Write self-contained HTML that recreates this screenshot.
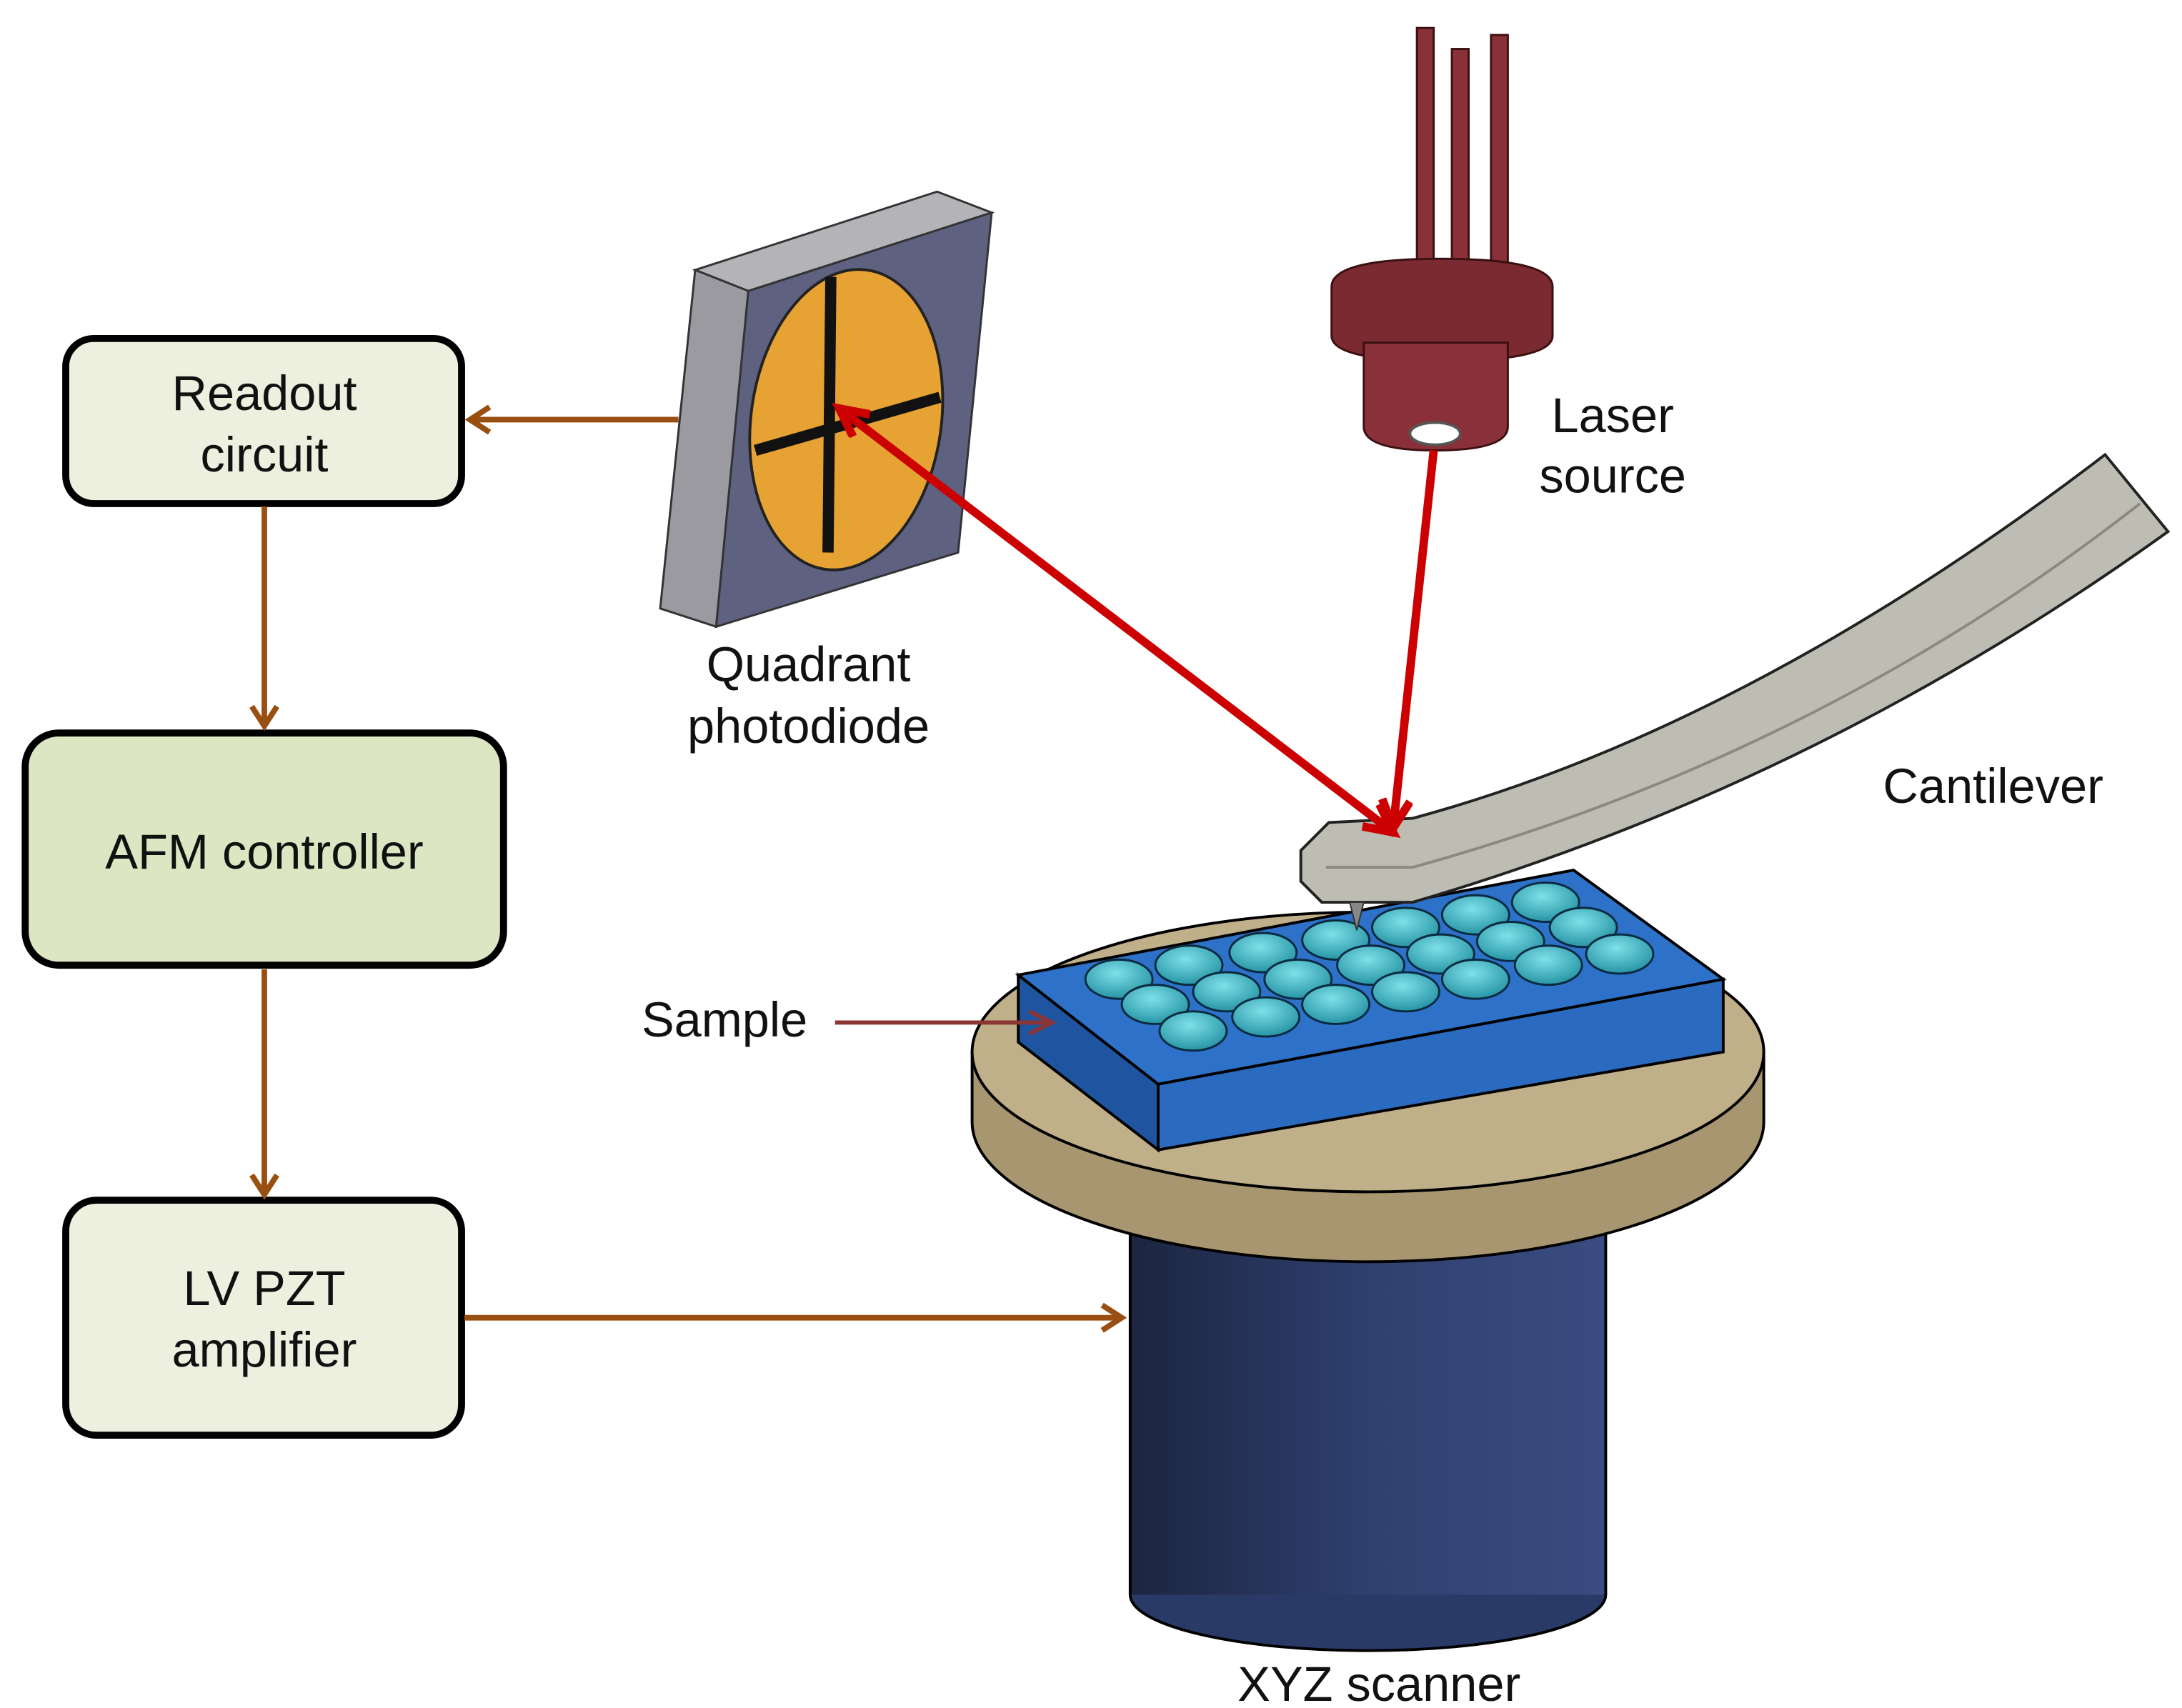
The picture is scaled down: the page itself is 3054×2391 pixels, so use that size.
<!DOCTYPE html>
<html><head><meta charset="utf-8"><style>
html,body{margin:0;padding:0;background:#fff}
svg{display:block}
text{font-family:"Liberation Sans",sans-serif;font-size:35px;fill:#111;text-anchor:middle}
</style></head><body>
<svg width="3054" height="2391" viewBox="0 0 1560 1221" preserveAspectRatio="none" xmlns="http://www.w3.org/2000/svg">
<defs>
<marker id="ab" markerWidth="24" markerHeight="24" refX="18" refY="12" orient="auto" markerUnits="userSpaceOnUse"><path d="M4,3 L18,12 L4,21" fill="none" stroke="#9a4f12" stroke-width="4"/></marker>
<marker id="ar" markerWidth="30" markerHeight="30" refX="22" refY="12" orient="auto-start-reverse" markerUnits="userSpaceOnUse"><path d="M2,2 L22,12 L2,22" fill="none" stroke="#cc0000" stroke-width="6"/></marker>
<marker id="as" markerWidth="24" markerHeight="24" refX="18" refY="10" orient="auto" markerUnits="userSpaceOnUse"><path d="M2,2 L18,10 L2,18" fill="none" stroke="#8b3535" stroke-width="3"/></marker>
<linearGradient id="cyl" x1="0" x2="1"><stop offset="0" stop-color="#1c2540"/><stop offset="0.5" stop-color="#2f4070"/><stop offset="1" stop-color="#3a4c80"/></linearGradient>
<radialGradient id="dome" cx="0.45" cy="0.35" r="0.7"><stop offset="0" stop-color="#7fe0e8"/><stop offset="1" stop-color="#1f8fa0"/></radialGradient>
</defs>

<rect x="47" y="242" width="283" height="118" rx="20" fill="#edf0de" stroke="#000" stroke-width="5"/>
<text x="189" y="293">Readout</text><text x="189" y="337">circuit</text>
<rect x="18" y="524" width="342" height="166" rx="24" fill="#dce6c2" stroke="#000" stroke-width="5"/>
<text x="189" y="621">AFM controller</text>
<rect x="47" y="858" width="283" height="168" rx="22" fill="#edf0de" stroke="#000" stroke-width="5"/>
<text x="189" y="933">LV PZT</text><text x="189" y="977">amplifier</text>

<g stroke="#9a4f12" stroke-width="4" fill="none">
<line x1="485" y1="300" x2="336" y2="300" marker-end="url(#ab)"/>
<line x1="189" y1="362" x2="189" y2="519" marker-end="url(#ab)"/>
<line x1="189" y1="693" x2="189" y2="854" marker-end="url(#ab)"/>
<line x1="332" y1="942" x2="802" y2="942" marker-end="url(#ab)"/>
</g>

<polygon points="497,193 670,137 709,152 535,208" fill="#b4b4b8" stroke="#333" stroke-width="1.5"/>
<polygon points="497,193 535,208 512,448 472,435" fill="#9a9aa0" stroke="#333" stroke-width="1.5"/>
<polygon points="535,208 709,152 685,395 512,448" fill="#5e6180" stroke="#333" stroke-width="1.5"/>
<ellipse cx="605" cy="300" rx="68" ry="108" transform="rotate(8 605 300)" fill="#e6a232" stroke="#222" stroke-width="2"/>
<line x1="540" y1="322" x2="672" y2="284" stroke="#111" stroke-width="8"/>
<line x1="594" y1="198" x2="592" y2="395" stroke="#111" stroke-width="8"/>
<text x="578" y="487">Quadrant</text><text x="578" y="531">photodiode</text>

<g stroke="#3a1010" stroke-width="1.5" fill="#8a3038">
<rect x="1013" y="20" width="12" height="180"/>
<rect x="1038" y="35" width="12" height="165"/>
<rect x="1066" y="25" width="12" height="175"/>
<path d="M952,205 Q952,185 1030,185 Q1110,185 1110,205 L1110,240 Q1110,258 1030,258 Q952,258 952,240 Z" fill="#7a2a30"/>
<path d="M975,245 L1078,245 L1078,305 Q1078,322 1026,322 Q975,322 975,305 Z" fill="#8a3038"/>
</g>
<ellipse cx="1026" cy="310" rx="18" ry="8" fill="#fff" stroke="#555" stroke-width="2"/>
<text x="1153" y="309">Laser</text><text x="1153" y="352">source</text>

<ellipse cx="978" cy="1140" rx="170" ry="40" fill="#2a3a66" stroke="#000" stroke-width="2"/>
<rect x="808" y="850" width="340" height="290" fill="url(#cyl)"/>
<line x1="808" y1="850" x2="808" y2="1140" stroke="#000" stroke-width="2"/>
<line x1="1148" y1="850" x2="1148" y2="1140" stroke="#000" stroke-width="2"/>
<path d="M695,752 L695,802 A283,100 0 0 0 1261,802 L1261,752 Z" fill="#a89670" stroke="#000" stroke-width="2"/>
<ellipse cx="978" cy="752" rx="283" ry="100" fill="#c0b08a" stroke="#000" stroke-width="2"/>

<polygon points="728,697 828,775 828,822 728,745" fill="#1f55a0" stroke="#000" stroke-width="2"/>
<polygon points="828,775 1232,700 1232,752 828,822" fill="#2a6bc0" stroke="#000" stroke-width="2"/>
<polygon points="728,697 1125,622 1232,700 828,775" fill="#2d72c8" stroke="#000" stroke-width="2"/>
<g fill="url(#dome)" stroke="#0a2a40" stroke-width="1.5">
<ellipse cx="800" cy="700" rx="24" ry="14"/><ellipse cx="850" cy="690" rx="24" ry="14"/><ellipse cx="903" cy="681" rx="24" ry="14"/><ellipse cx="955" cy="672" rx="24" ry="14"/><ellipse cx="1005" cy="663" rx="24" ry="14"/><ellipse cx="1055" cy="654" rx="24" ry="14"/><ellipse cx="1105" cy="645" rx="24" ry="14"/>
<ellipse cx="826" cy="718" rx="24" ry="14"/><ellipse cx="877" cy="709" rx="24" ry="14"/><ellipse cx="928" cy="700" rx="24" ry="14"/><ellipse cx="980" cy="690" rx="24" ry="14"/><ellipse cx="1030" cy="682" rx="24" ry="14"/><ellipse cx="1080" cy="673" rx="24" ry="14"/><ellipse cx="1132" cy="663" rx="24" ry="14"/>
<ellipse cx="853" cy="737" rx="24" ry="14"/><ellipse cx="905" cy="727" rx="24" ry="14"/><ellipse cx="955" cy="718" rx="24" ry="14"/><ellipse cx="1005" cy="709" rx="24" ry="14"/><ellipse cx="1055" cy="700" rx="24" ry="14"/><ellipse cx="1107" cy="690" rx="24" ry="14"/><ellipse cx="1158" cy="682" rx="24" ry="14"/>
</g>
<text x="518" y="741">Sample</text>
<line x1="597" y1="731" x2="752" y2="731" stroke="#8b3535" stroke-width="3" marker-end="url(#as)"/>

<path d="M930,608 L950,588 L1010,585 Q1250,520 1505,325 L1550,380 Q1300,560 1010,645 L945,645 L930,630 Z" fill="#bdbdb3" stroke="#222" stroke-width="2"/>
<path d="M948,620 L1010,620 Q1300,540 1530,360" fill="none" stroke="#8a8a82" stroke-width="2"/>
<polygon points="965,645 975,645 970,665" fill="#888" stroke="#333" stroke-width="1"/>
<text x="1425" y="574">Cantilever</text>

<line x1="1025" y1="322" x2="996" y2="592" stroke="#cc0000" stroke-width="6" marker-end="url(#ar)"/>
<line x1="996" y1="595" x2="600" y2="292" stroke="#cc0000" stroke-width="6" marker-start="url(#ar)" marker-end="url(#ar)"/>

<text x="986" y="1216">XYZ scanner</text>
</svg>
</body></html>
